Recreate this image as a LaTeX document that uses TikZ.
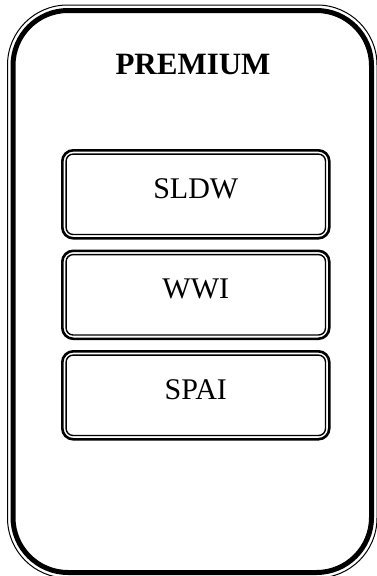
\documentclass[tikz,border=0pt]{standalone}
\usepackage{fontspec}
\setmainfont{Liberation Serif}
\usetikzlibrary{positioning}

\begin{document}
\begin{tikzpicture}[
	x=1pt,
	y=-1pt,
	node distance=12.5pt,
	frame/.style={
		rectangle,
		draw,
		line width=5pt,
		rounded corners=55pt,
		minimum width=358.5pt,
		minimum height=562pt,
		outer sep=0pt
	},
	title/.style={
		font=\fontsize{31}{36}\selectfont\bfseries
	},
	service/.style={
		rectangle,
		draw,
		line width=2.6pt,
		rounded corners=11pt,
		minimum width=267pt,
		minimum height=88pt,
		text depth=12pt,
		outer sep=0pt,
		font=\fontsize{30}{36}\selectfont
	},
	ring/.style={
		line width=1.4pt
	}
	]
	\useasboundingbox (0,0) rectangle (376,576);
	% Outer package box
	\node[frame] (premium_box) at (192.25,291.5) {};
	\draw[ring, line width=1pt, rounded corners=60pt] ([shift={(-5.5,-5.5)}]premium_box.north west) rectangle ([shift={(5.5,5.5)}]premium_box.south east);
	\node[title] (premium) at (193,64) {PREMIUM};
	% Services
	\node[service] (sldw) at (195.8,194.3) {SLDW};
	\node[service, below=of sldw] (wwi) {WWI};
	\node[service, below=of wwi] (spai) {SPAI};
	% Inner lines of the services
	\foreach \s in {sldw, wwi, spai}
		\draw[ring, rounded corners=7pt] ([shift={(3.8,3.8)}]\s.north west) rectangle ([shift={(-3.8,-3.8)}]\s.south east);
\end{tikzpicture}
\end{document}
